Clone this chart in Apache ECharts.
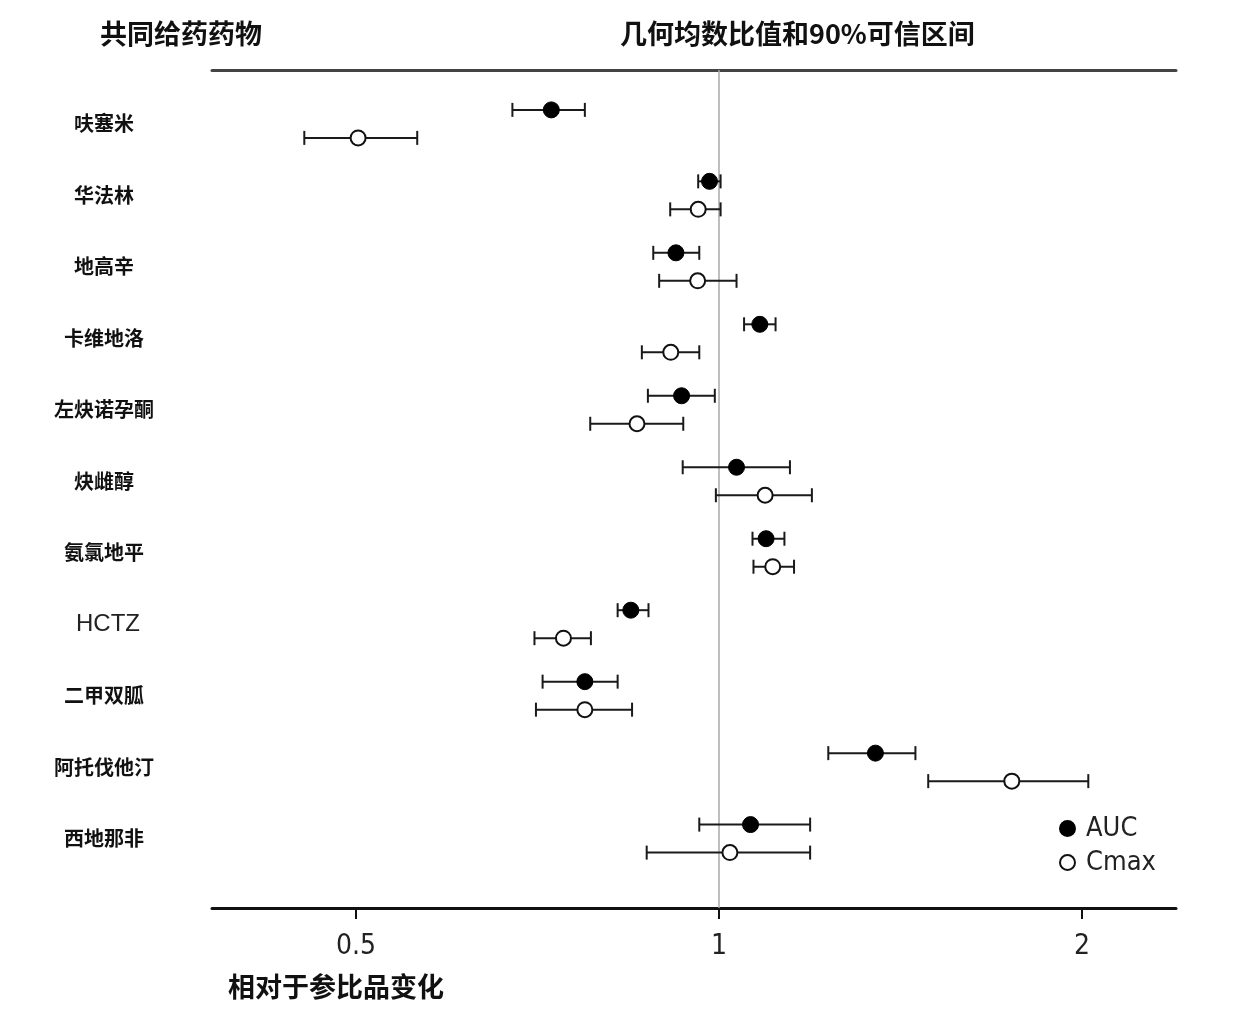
<!DOCTYPE html>
<html>
<head>
<meta charset="utf-8">
<script src="https://cdn.jsdelivr.net/npm/echarts@6/dist/echarts.min.js"></script>
<style>html,body{margin:0;padding:0;background:#fff;}#chart{width:1233px;height:1025px;}</style>
</head>
<body>
<div id="chart"></div>
<script>
const drugs = ['呋塞米','华法林','地高辛','卡维地洛','左炔诺孕酮','炔雌醇','氨氯地平','HCTZ','二甲双胍','阿托伐他汀','西地那非'];
const aucRatio = [0.726, 0.982, 0.921, 1.081, 0.931, 1.034, 1.094, 0.845, 0.774, 1.348, 1.062];
const aucLow   = [0.674, 0.961, 0.882, 1.049, 0.873, 0.933, 1.066, 0.824, 0.714, 1.232, 0.963];
const aucHigh  = [0.774, 1.003, 0.963, 1.114, 0.992, 1.145, 1.133, 0.874, 0.824, 1.455, 1.190];
const cmaxRatio = [0.502, 0.961, 0.960, 0.912, 0.855, 1.092, 1.108, 0.743, 0.774, 1.749, 1.021];
const cmaxLow   = [0.453, 0.911, 0.892, 0.863, 0.782, 0.994, 1.068, 0.703, 0.705, 1.491, 0.871];
const cmaxHigh  = [0.562, 1.003, 1.034, 0.963, 0.934, 1.194, 1.154, 0.783, 0.847, 2.024, 1.190];
const xTicks = [0.5, 1, 2];
const seriesNames = ['AUC', 'Cmax'];

const CJK = 'Noto Sans CJK SC';
const NARROW = '"Liberation Sans Narrow", "DejaVu Sans Condensed", "Liberation Sans", sans-serif';
const SUB = 14; // vertical offset of AUC / Cmax sub-rows in px

function errRenderer(shift) {
  return function (params, api) {
    const y = api.value(2);
    const p1 = api.coord([api.value(0), y]);
    const p2 = api.coord([api.value(1), y]);
    const yy = p1[1] + shift;
    const cap = 7;
    const style = { stroke: '#1a1a1a', lineWidth: 2 };
    return {
      type: 'group',
      children: [
        { type: 'line', shape: { x1: p1[0], y1: yy, x2: p2[0], y2: yy }, style: style },
        { type: 'line', shape: { x1: p1[0], y1: yy - cap, x2: p1[0], y2: yy + cap }, style: style },
        { type: 'line', shape: { x1: p2[0], y1: yy - cap, x2: p2[0], y2: yy + cap }, style: style }
      ]
    };
  };
}

const chart = echarts.init(document.getElementById('chart'), null, { renderer: 'canvas' });
const option = {
  backgroundColor: '#fff',
  animation: false,
  title: [
    { text: '共同给药药物', left: 95, top: 15, textStyle: { fontFamily: CJK, fontWeight: 'bold', fontSize: 27, color: '#111' } },
    { text: '几何均数比值和90%可信区间', left: 615, top: 15, textStyle: { fontFamily: CJK, fontWeight: 'bold', fontSize: 27, color: '#111' } },
    { text: '相对于参比品变化', left: 223, top: 968, textStyle: { fontFamily: CJK, fontWeight: 'bold', fontSize: 27, color: '#111' } }
  ],
  legend: {
    orient: 'vertical',
    left: 1059,
    top: 815,
    padding: 0,
    itemWidth: 15,
    itemHeight: 15,
    itemGap: 7,
    icon: 'circle',
    data: seriesNames,
    formatter: function (name) { return '{t|' + name + '}'; },
    textStyle: {
      fontFamily: NARROW, fontSize: 27, color: '#222',
      rich: { t: { fontFamily: NARROW, fontSize: 27, color: '#222', padding: [0, 0, 0, 6] } }
    }
  },
  grid: { left: 212, right: 57, top: 70, bottom: 117 },
  xAxis: [
    {
      type: 'log',
      logBase: 2,
      min: 0.3798,
      max: 2.393,
      position: 'bottom',
      axisLine: { show: true, onZero: false, lineStyle: { color: '#111', width: 3 } },
      axisTick: { show: true, customValues: xTicks, length: 11, lineStyle: { color: '#111', width: 2 } },
      axisLabel: { customValues: xTicks, margin: 25, fontFamily: NARROW, fontSize: 28, color: '#222' },
      splitLine: { show: false },
      minorTick: { show: false }
    },
    {
      type: 'log',
      logBase: 2,
      min: 0.3798,
      max: 2.393,
      position: 'top',
      axisLine: { show: true, onZero: false, lineStyle: { color: '#444', width: 3 } },
      axisTick: { show: false },
      axisLabel: { show: false },
      splitLine: { show: false }
    }
  ],
  yAxis: {
    type: 'value',
    inverse: true,
    min: -0.754,
    max: 10.971,
    axisLine: { show: false },
    axisTick: { show: false },
    splitLine: { show: false },
    axisLabel: {
      customValues: drugs.map((d, i) => i),
      align: 'center',
      margin: 108,
      formatter: function (v) {
        const name = drugs[Math.round(v)];
        return name === 'HCTZ' ? '{n|' + name + '}' : '{b|' + name + '}';
      },
      rich: {
        b: { fontFamily: CJK, fontWeight: 'bold', fontSize: 20, color: '#111' },
        n: { fontFamily: '"Liberation Sans", Arial, sans-serif', fontWeight: 'normal', fontSize: 24, color: '#222', padding: [0, 0, 0, 8] }
      }
    }
  },
  series: [
    {
      type: 'custom',
      name: 'AUC-err',
      renderItem: errRenderer(-SUB),
      data: drugs.map((d, i) => [aucLow[i], aucHigh[i], i]),
      encode: { x: [0, 1], y: 2 },
      z: 3,
      silent: true
    },
    {
      type: 'custom',
      name: 'Cmax-err',
      renderItem: errRenderer(SUB),
      data: drugs.map((d, i) => [cmaxLow[i], cmaxHigh[i], i]),
      encode: { x: [0, 1], y: 2 },
      z: 3,
      silent: true
    },
    {
      type: 'scatter',
      name: 'AUC',
      data: drugs.map((d, i) => [aucRatio[i], i]),
      symbol: 'circle',
      symbolSize: 16,
      symbolOffset: [0, -SUB],
      itemStyle: { color: '#000', borderColor: '#000', borderWidth: 1, opacity: 1 },
      z: 5,
      markLine: {
        silent: true,
        symbol: 'none',
        label: { show: false },
        lineStyle: { color: '#a8a8a8', width: 1.5, type: 'solid' },
        data: [{ xAxis: 1 }],
        z: 1
      }
    },
    {
      type: 'scatter',
      name: 'Cmax',
      data: drugs.map((d, i) => [cmaxRatio[i], i]),
      symbol: 'circle',
      symbolSize: 15,
      symbolOffset: [0, SUB],
      itemStyle: { color: '#fff', borderColor: '#111', borderWidth: 2, opacity: 1 },
      z: 5
    }
  ]
};
chart.setOption(option);
</script>
</body>
</html>
